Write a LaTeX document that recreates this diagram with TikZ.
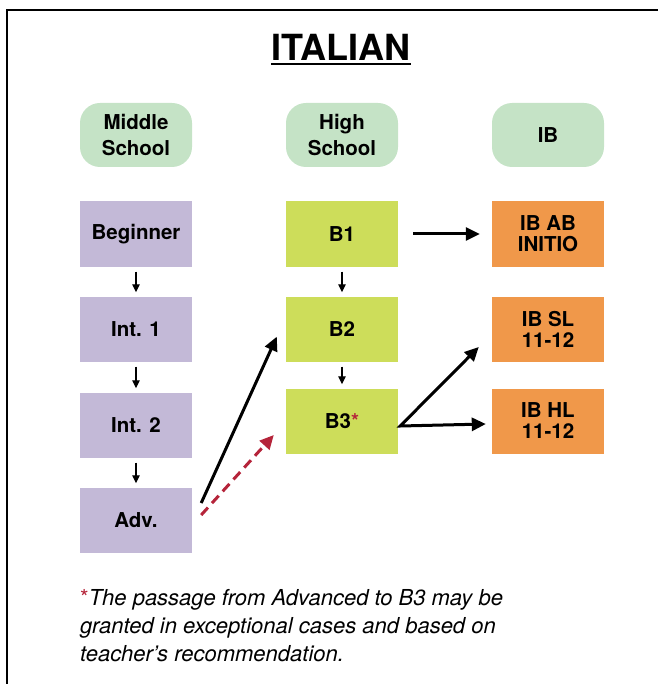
\documentclass[tikz,border=0pt]{standalone}
\usepackage{fontspec}
\setmainfont{TeX Gyre Heros}
\usepackage{tikz}
\usetikzlibrary{arrows.meta,positioning}
\definecolor{headgreen}{RGB}{197,227,198}
\definecolor{msviolet}{RGB}{195,185,215}
\definecolor{hslime}{RGB}{205,221,90}
\definecolor{iborange}{RGB}{240,152,74}
\definecolor{starred}{RGB}{181,36,58}

\begin{document}
\begin{tikzpicture}[x=1pt,y=-1pt,
    hdr/.style={rounded corners=20pt,fill=headgreen,minimum width=112pt,minimum height=64pt,align=center,font=\bfseries\fontsize{20.5}{26}\selectfont},
    lvl/.style={minimum width=112pt,minimum height=65pt,align=center,font=\bfseries\fontsize{20.5}{21}\selectfont},
    smallarr/.style={-{Triangle[length=8pt,width=7.5pt]},line width=1.3pt,shorten <=5pt,shorten >=4pt},
    bigarr/.style={-{Triangle[length=14pt,width=13pt]},line width=3pt}]
    \useasboundingbox (0,0) rectangle (658,684);

    % Frame and title
    \draw[line width=2.8pt] (7,684) -- (7,10) -- (658,10);
    \node[inner sep=0pt,font=\bfseries\fontsize{36}{40}\selectfont] (title) at (341,47) {ITALIAN};
    \draw[line width=2.2pt] ([yshift=-4pt]title.base west) -- ([yshift=-4pt]title.base east);

    % Headers
    \node[hdr] (ms) at (136,135) {Middle\\School};
    \node[hdr] (hs) at (342,135) {High\\School};
    \node[hdr] (ib) at (548,135) {IB};

    % Middle school
    \foreach \n/\y/\t in {beg/234/Beginner,int1/329/Int. 1,int2/425/Int. 2,adv/520/Adv.} {
        \node[lvl,fill=msviolet] (\n) at (136,\y) {\t};
    }

    % High school
    \node[lvl,fill=hslime] (b1) at (342,234) {B1};
    \node[lvl,fill=hslime] (b2) at (342,329) {B2};
    \node[lvl,fill=hslime] (b3) at (342,421) {B3\textcolor{starred}{*}};

    % IB
    \node[lvl,fill=iborange] (ab) at (548,234) {IB AB\\INITIO};
    \node[lvl,fill=iborange] (sl) at (548,329) {IB SL\\11-12};
    \node[lvl,fill=iborange] (hl) at (548,421) {IB HL\\11-12};

    % Connections
    \draw[smallarr] (beg) -- (int1);
    \draw[smallarr] (int1) -- (int2);
    \draw[smallarr] (int2) -- (adv);
    \draw[smallarr] (b1) -- (b2);
    \draw[smallarr] (b2) -- (b3);
    \draw[bigarr,shorten <=15pt,shorten >=12pt] (b1.east) -- (ab.west);
    \draw[bigarr] ([xshift=9pt,yshift=17pt]adv.east) -- ([xshift=-9pt,yshift=25pt]b2.south west);
    \draw[bigarr,starred,dash pattern=on 10pt off 6pt] ([xshift=9pt,yshift=5pt]adv.east) -- ([xshift=-12pt,yshift=-14pt]b3.west);
    \draw[bigarr,{Triangle[length=14pt,width=13pt]}-{Triangle[length=14pt,width=13pt]}] ([xshift=-13pt,yshift=-18pt]sl.west) -- ([xshift=2pt,yshift=-5pt]b3.east) -- ([xshift=-6pt,yshift=-3pt]hl.west);

    % Note
    \node[anchor=north west,inner sep=0pt,align=left,font=\fontsize{22}{28}\selectfont] (note) at (80,589)
        {\textcolor{starred}{*}\textit{The passage from Advanced to B3 may be}\\
         \textit{granted in exceptional cases and based on}\\
         \textit{teacher’s recommendation.}};
\end{tikzpicture}
\end{document}
